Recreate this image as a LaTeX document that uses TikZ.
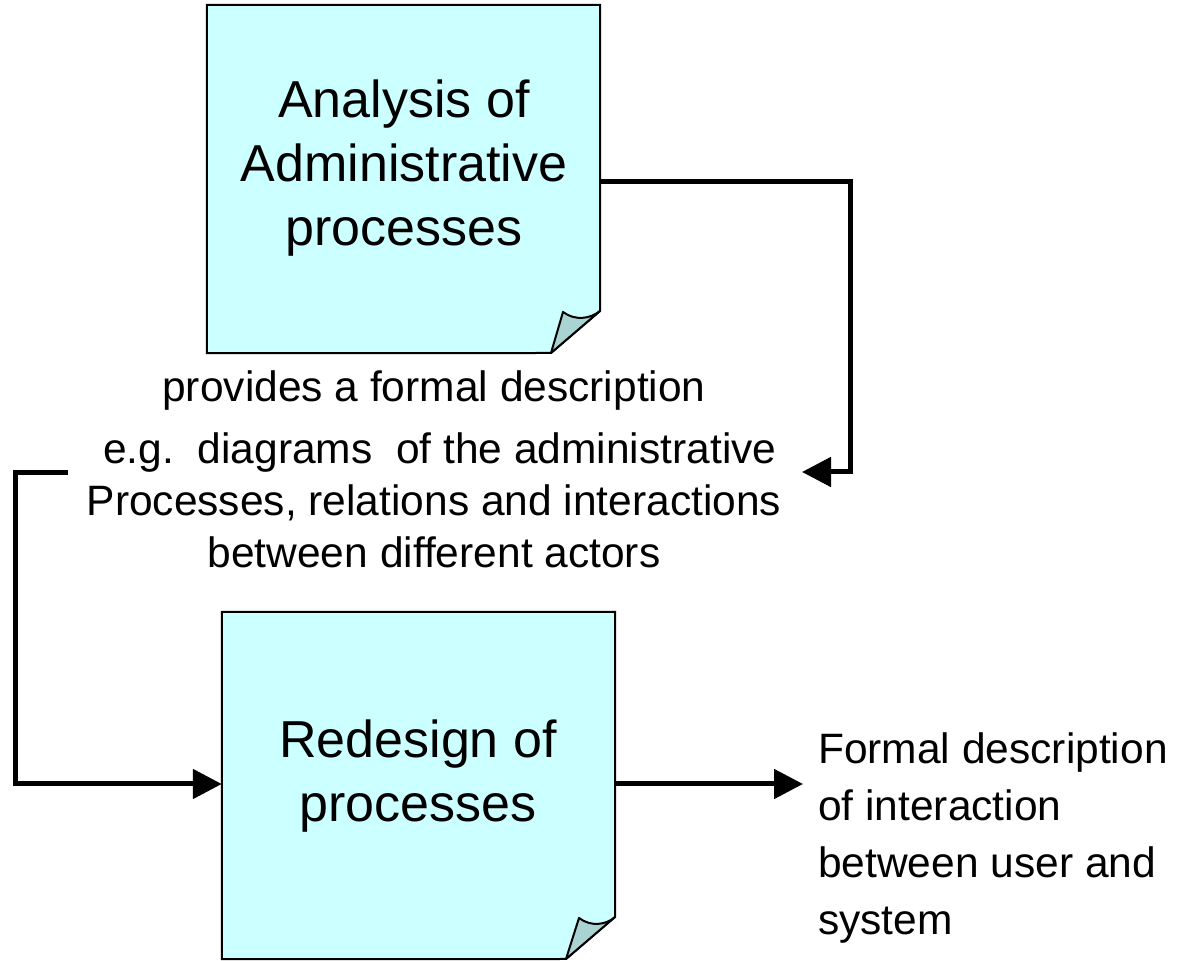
\documentclass[tikz,border=0pt]{standalone}
\usepackage{fontspec}
\setmainfont{Liberation Sans}
\usetikzlibrary{arrows.meta}
\definecolor{boxfill}{RGB}{204,255,255}
\definecolor{foldfill}{RGB}{170,211,211}
\tikzset{
  notebox/.style={fill=boxfill,draw=black,line width=2pt,line join=miter},
  foldpart/.style={fill=foldfill,draw=black,line width=2pt,line join=round},
  boxtext/.style={inner sep=0pt,anchor=north,align=center,font=\fontsize{52}{64}\selectfont},
  midtext/.style={inner sep=0pt,anchor=north,align=center,font=\fontsize{42.5}{52}\selectfont},
  sidetext/.style={inner sep=0pt,anchor=north west,align=left,font=\fontsize{42.5}{57}\selectfont},
  flow/.style={line width=5pt,-{Triangle[length=29pt,width=29pt]}}
}
\begin{document}
\begin{tikzpicture}[x=1pt,y=1pt]
\useasboundingbox (0,0) rectangle (1179,961);
% box 1
\node[minimum width=393pt,minimum height=348pt,inner sep=0pt] (box1) at (403.5,782) {};
\draw[notebox] (box1.north west) -- (box1.north east) -- (600,650) -- (551,608) -- (box1.south west) -- cycle;
\draw[foldpart] (551,608) -- (563,649) .. controls (575,640) and (590,642) .. (600,650) -- cycle;
% box 2
\node[minimum width=393pt,minimum height=347pt,inner sep=0pt] (box2) at (418.5,175.5) {};
\draw[notebox] (box2.north west) -- (box2.north east) -- (615,44) -- (566,2) -- (box2.south west) -- cycle;
\draw[foldpart] (566,2) -- (579,43) .. controls (591,34) and (606,36) .. (615,44) -- cycle;
% texts
\node[boxtext] (t1) at (404,881) {Analysis of\\Administrative\\processes};
\node[boxtext] (t2) at (418,241) {Redesign of\\processes};
\node[midtext] (mid) at (434,590) {provides a formal description\\[10pt]~e.g.\ \ diagrams\ \ of the administrative\\Processes, relations and interactions\\between different actors};
\node[sidetext] (side) at (818,228) {Formal description\\of interaction\\between user and\\system};
% connectors
\coordinate (a1) at (box1.east |- 0,779);
\coordinate (a1end) at (802,489);
\draw[flow] (a1) -| (850,489) -- (a1end);
\coordinate (a2start) at (68,488);
\coordinate (a2end) at (box2.west |- 0,177);
\draw[flow] (a2start) -| (15,177) -- (a2end);
\coordinate (a3) at (box2.east |- 0,177);
\coordinate (a3end) at (803,177);
\draw[flow] (a3) -- (a3end);
\end{tikzpicture}
\end{document}
